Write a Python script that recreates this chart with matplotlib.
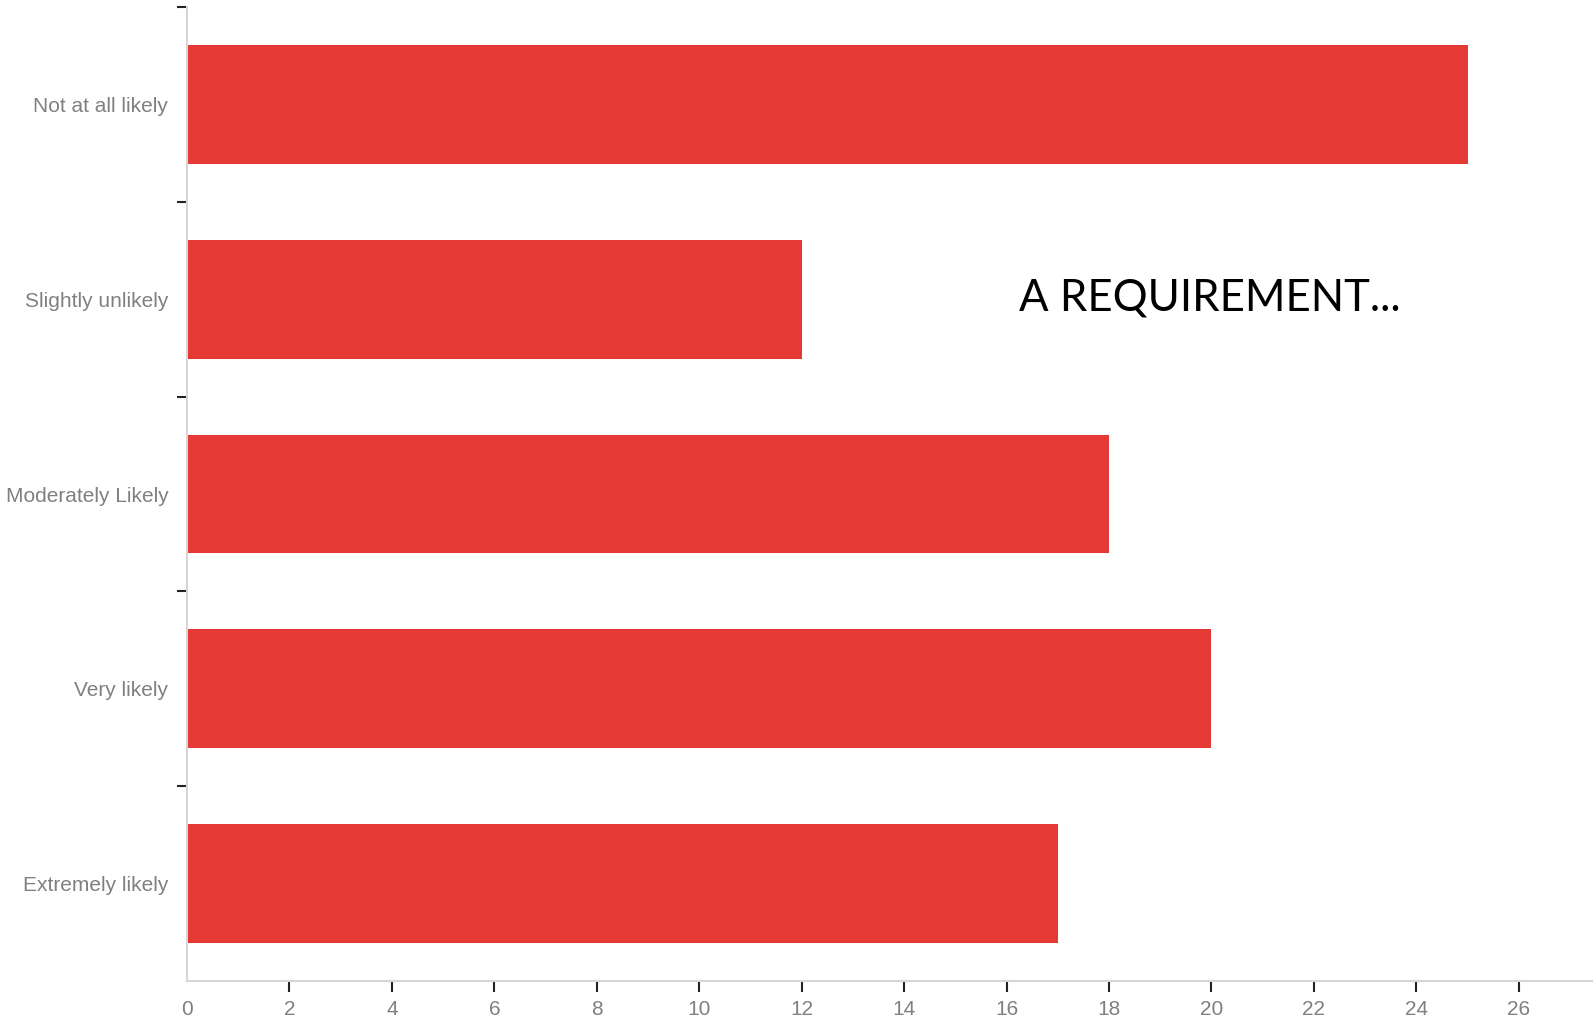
import matplotlib
matplotlib.use("Agg")
import matplotlib.pyplot as plt
import numpy as np

categories = ["Not at all likely", "Slightly unlikely", "Moderately Likely", "Very likely", "Extremely likely"]
values = [25, 12, 18, 20, 17]
xticks = list(range(0, 27, 2))

fig = plt.figure(figsize=(15.93, 10.24), dpi=100)
ax = fig.add_axes([187/1593, 1-981/1024, 1-187/1593, (981-7)/1024])

y = np.arange(len(categories))
ax.barh(y, values, height=0.61, color="#E53935")
ax.set_ylim(len(categories)-0.5, -0.5)
ax.set_xlim(0, 27.45)

label_font = dict(fontsize=15, color="#808080", family="Liberation Sans")

ax.set_yticks(y)
ax.set_yticklabels(categories, **label_font)
ax.tick_params(axis="y", which="major", length=0, pad=13.5)
ax.set_yticks(np.arange(-0.5, len(categories) - 1, 1), minor=True)
ax.tick_params(axis="y", which="minor", length=7, width=1.5, color="#222222")

ax.set_xticks(xticks)
ax.set_xticklabels([str(t) for t in xticks], **label_font)
ax.tick_params(axis="x", length=8, width=1.5, color="#222222", pad=6)
ax.xaxis.get_major_ticks()[0].tick1line.set_visible(False)

for s in ["top", "right"]:
    ax.spines[s].set_visible(False)
for s in ["left", "bottom"]:
    ax.spines[s].set_color("#d6d6d6")
    ax.spines[s].set_linewidth(1.5)

fig.text(1019/1593, 1-298/1024, "A REQUIREMENT...", fontsize=31.5, family="Lato",
         color="black", ha="left", va="center")

fig.savefig("out.png", dpi=100)
